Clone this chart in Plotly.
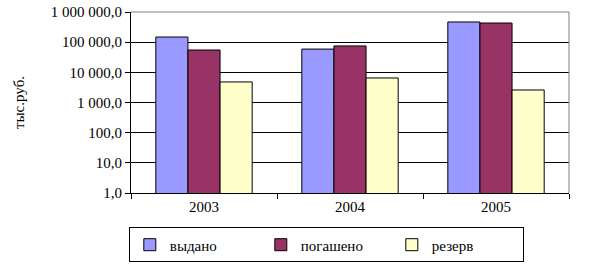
import plotly.graph_objects as go

years = ["2003", "2004", "2005"]
vydano = [148000, 59000, 467000]
pogasheno = [55000, 75000, 431000]
rezerv = [4800, 6500, 2600]
series_names = ["выдано", "погашено", "резерв"]
colors = ["#9999FF", "#993366", "#FFFFCC"]
y_tickvals = [1, 10, 100, 1000, 10000, 100000, 1000000]
y_ticktext = ["1,0", "10,0", "100,0", "1 000,0", "10 000,0", "100 000,0", "1 000 000,0"]

FONT = "Liberation Serif, Times New Roman, serif"

fig = go.Figure()
for name, vals, col in zip(series_names, [vydano, pogasheno, rezerv], colors):
    fig.add_trace(go.Bar(x=years, y=vals, name=name,
                         marker=dict(color=col, line=dict(color="black", width=1))))

fig.update_layout(
    width=598, height=267,
    margin=dict(l=131, r=29, t=12, b=74, autoexpand=False),
    paper_bgcolor="white", plot_bgcolor="white",
    barmode="group", bargap=0.34, bargroupgap=0,
    font=dict(family=FONT, size=15, color="black"),
    showlegend=True,
    legend=dict(orientation="h", x=-0.005, xanchor="left", y=-0.287, yanchor="middle",
                bordercolor="black", borderwidth=1, bgcolor="white",
                font=dict(family=FONT, size=15), traceorder="normal",
                entrywidth=86, entrywidthmode="pixels",
                itemclick=False),
    xaxis=dict(type="category", showline=True, linecolor="black", linewidth=1,
               ticks="outside", tickson="boundaries", ticklen=5, tickcolor="black",
               showgrid=False, tickfont=dict(family=FONT, size=15)),
    yaxis=dict(type="log", range=[0, 6], tickvals=y_tickvals, ticktext=y_ticktext,
               showline=True, linecolor="black", linewidth=1,
               ticks="outside", ticklen=5, tickcolor="black",
               showgrid=True, gridcolor="black", gridwidth=1,
               tickfont=dict(family=FONT, size=15),
               title=dict(text="тыс.руб.", font=dict(family=FONT, size=15), standoff=22)),
)
fig.add_shape(type="line", xref="paper", yref="paper", x0=0, x1=1, y0=1, y1=1,
              line=dict(color="#808080", width=1))
fig.add_shape(type="line", xref="paper", yref="paper", x0=1, x1=1, y0=0, y1=1,
              line=dict(color="#808080", width=1))

fig.write_html("out.html")
